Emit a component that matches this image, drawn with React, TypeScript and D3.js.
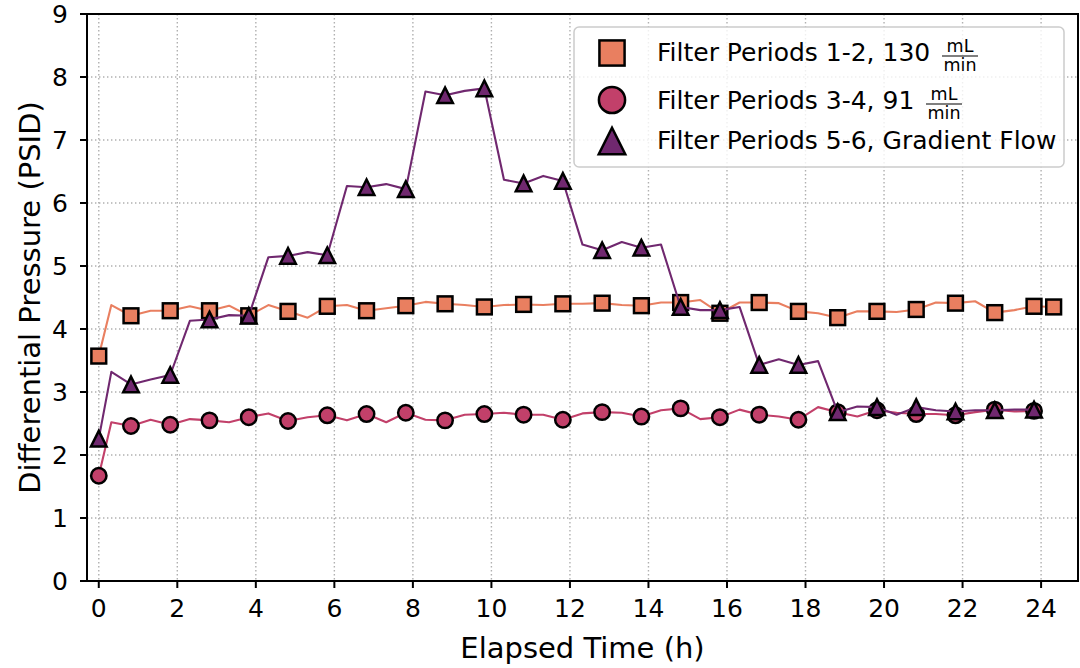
import React from "react";
import * as d3 from "d3";

// ---- data ----
const timeOrange = [0, 0.32, 0.82, 1.32, 1.82, 2.32, 2.82, 3.32, 3.82, 4.32, 4.82, 5.32, 5.82, 6.32, 6.82, 7.32, 7.82, 8.32, 8.82, 9.32, 9.82, 10.32, 10.82, 11.32, 11.82, 12.32, 12.82, 13.32, 13.82, 14.32, 14.82, 15.32, 15.82, 16.32, 16.82, 17.32, 17.82, 18.32, 18.82, 19.32, 19.82, 20.32, 20.82, 21.32, 21.82, 22.32, 22.82, 23.32, 23.82, 24.32];
const timeOther = timeOrange.slice(0, 49);

const period12 = [3.57, 4.38, 4.21, 4.29, 4.29, 4.36, 4.29, 4.37, 4.21, 4.38, 4.28, 4.18, 4.36, 4.38, 4.29, 4.33, 4.37, 4.43, 4.40, 4.38, 4.35, 4.38, 4.39, 4.38, 4.40, 4.40, 4.41, 4.38, 4.37, 4.42, 4.42, 4.46, 4.25, 4.42, 4.42, 4.41, 4.28, 4.25, 4.18, 4.28, 4.28, 4.27, 4.31, 4.42, 4.41, 4.44, 4.26, 4.30, 4.36, 4.35];
const period34 = [1.67, 2.52, 2.46, 2.56, 2.48, 2.57, 2.55, 2.52, 2.60, 2.66, 2.54, 2.60, 2.63, 2.55, 2.65, 2.52, 2.67, 2.56, 2.55, 2.64, 2.65, 2.67, 2.64, 2.64, 2.56, 2.66, 2.68, 2.67, 2.61, 2.71, 2.74, 2.57, 2.60, 2.72, 2.64, 2.61, 2.56, 2.76, 2.68, 2.61, 2.71, 2.67, 2.65, 2.65, 2.63, 2.68, 2.72, 2.69, 2.70];
const period56 = [2.26, 3.32, 3.12, 3.20, 3.27, 4.13, 4.15, 4.22, 4.21, 5.14, 5.16, 5.22, 5.17, 6.27, 6.25, 6.30, 6.22, 7.77, 7.71, 7.78, 7.82, 6.37, 6.31, 6.43, 6.35, 5.34, 5.25, 5.38, 5.29, 5.34, 4.35, 4.30, 4.30, 4.35, 3.43, 3.52, 3.43, 3.49, 2.68, 2.77, 2.76, 2.64, 2.76, 2.71, 2.69, 2.71, 2.71, 2.72, 2.72];

const xTicks = [0, 2, 4, 6, 8, 10, 12, 14, 16, 18, 20, 22, 24];
const yTicks = [0, 1, 2, 3, 4, 5, 6, 7, 8, 9];

const legendLabels = ["Filter Periods 1-2, 130", "Filter Periods 3-4, 91", "Filter Periods 5-6, Gradient Flow"];

// ---- layout ----
const W = 1080, H = 668;
const L = 87, R = 1078, T = 14, B = 581;
const FONT = "'DejaVu Sans', sans-serif";

const COLORS = ["#E97F60", "#C2406A", "#70286F"];

type Series = { t: number[]; v: number[]; color: string; shape: "square" | "circle" | "triangle" };

const series: Series[] = [
  { t: timeOrange, v: period12, color: COLORS[0], shape: "square" },
  { t: timeOther, v: period34, color: COLORS[1], shape: "circle" },
  { t: timeOther, v: period56, color: COLORS[2], shape: "triangle" },
];

function Marker({ shape, x, y, color, k = 1 }: { shape: string; x: number; y: number; color: string; k?: number }) {
  const sw = 2.5;
  if (shape === "square") {
    const s = 14.8 * k;
    return <rect x={x - s / 2} y={y - s / 2} width={s} height={s} fill={color} stroke="#000" strokeWidth={sw} />;
  }
  if (shape === "circle") {
    return <circle cx={x} cy={y} r={7.7 * k} fill={color} stroke="#000" strokeWidth={sw} />;
  }
  const h = 7.8 * k;
  const p = `M${x},${y - h}L${x - h},${y + h}L${x + h},${y + h}Z`;
  return <path d={p} fill={color} stroke="#000" strokeWidth={sw} strokeLinejoin="miter" />;
}

export default function App() {
  const x = d3.scaleLinear().domain([-0.3, 24.94]).range([L, R]);
  const y = d3.scaleLinear().domain([0, 9]).range([B, T]);
  const line = d3
    .line<[number, number]>()
    .x((d) => x(d[0]))
    .y((d) => y(d[1]));

  return (
    <svg width={W} height={H} style={{ position: "absolute", left: 0, top: 0, background: "#fff" }} fontFamily={FONT}>
      <rect x={0} y={0} width={W} height={H} fill="#fff" />
      {/* grid */}
      <g stroke="#b0b0b0" strokeWidth={1.4} strokeDasharray="1.4,2.6">
        {xTicks.map((t) => (
          <line key={"gx" + t} x1={x(t)} x2={x(t)} y1={T} y2={B} />
        ))}
        {yTicks.map((v) => (
          <line key={"gy" + v} x1={L} x2={R} y1={y(v)} y2={y(v)} />
        ))}
      </g>

      {/* series */}
      {series.map((s, si) => {
        const pts = s.t.map((t, i) => [t, s.v[i]] as [number, number]);
        return (
          <g key={"s" + si}>
            <path d={line(pts) || ""} fill="none" stroke={s.color} strokeWidth={2.1} strokeLinejoin="round" />
            {pts.map((p, i) =>
              i % 2 === 0 || i === pts.length - 1 ? (
                <Marker key={i} shape={s.shape} x={x(p[0])} y={y(p[1])} color={s.color} />
              ) : null
            )}
          </g>
        );
      })}

      {/* spines */}
      <rect x={L} y={T} width={R - L} height={B - T} fill="none" stroke="#000" strokeWidth={2} />

      {/* x ticks */}
      {xTicks.map((t) => (
        <g key={"xt" + t}>
          <line x1={x(t)} x2={x(t)} y1={B} y2={B + 7} stroke="#000" strokeWidth={2} />
          <text x={x(t)} y={617} textAnchor="middle" fontSize={25} fill="#000">
            {t}
          </text>
        </g>
      ))}
      {/* y ticks */}
      {yTicks.map((v) => (
        <g key={"yt" + v}>
          <line x1={L - 7} x2={L} y1={y(v)} y2={y(v)} stroke="#000" strokeWidth={2} />
          <text x={68} y={y(v) + 9} textAnchor="end" fontSize={25} fill="#000">
            {v}
          </text>
        </g>
      ))}

      {/* axis labels */}
      <text x={(L + R) / 2} y={658} textAnchor="middle" fontSize={29} fill="#000">
        Elapsed Time (h)
      </text>
      <text transform={`translate(40,${(T + B) / 2}) rotate(-90)`} textAnchor="middle" fontSize={29} fill="#000">
        Differential Pressure (PSID)
      </text>

      {/* legend */}
      <g>
        <rect x={574} y={27} width={490} height={140} rx={5} ry={5} fill="#fff" fillOpacity={0.8} stroke="#cccccc" strokeWidth={1.5} />
        {legendLabels.map((lab, i) => {
          const cy = [53, 100, 141][i];
          const by = [61, 109, 149][i];
          return (
            <g key={"lg" + i}>
              <Marker shape={series[i].shape} x={612} y={cy} color={series[i].color} k={1.7} />
              <text x={657} y={by} fontSize={25} fill="#000">
                {lab}
              </text>
            </g>
          );
        })}
        {[
          { cx: 960, top: 52, bar: 56, bot: 71 },
          { cx: 944, top: 100, bar: 104, bot: 119 },
        ].map((f, i) => (
          <g key={"fr" + i} fontSize={17.5} fill="#000">
            <text x={f.cx} y={f.top} textAnchor="middle">
              mL
            </text>
            <line x1={f.cx - 18} x2={f.cx + 18} y1={f.bar} y2={f.bar} stroke="#000" strokeWidth={1.2} />
            <text x={f.cx} y={f.bot} textAnchor="middle">
              min
            </text>
          </g>
        ))}
      </g>
    </svg>
  );
}
